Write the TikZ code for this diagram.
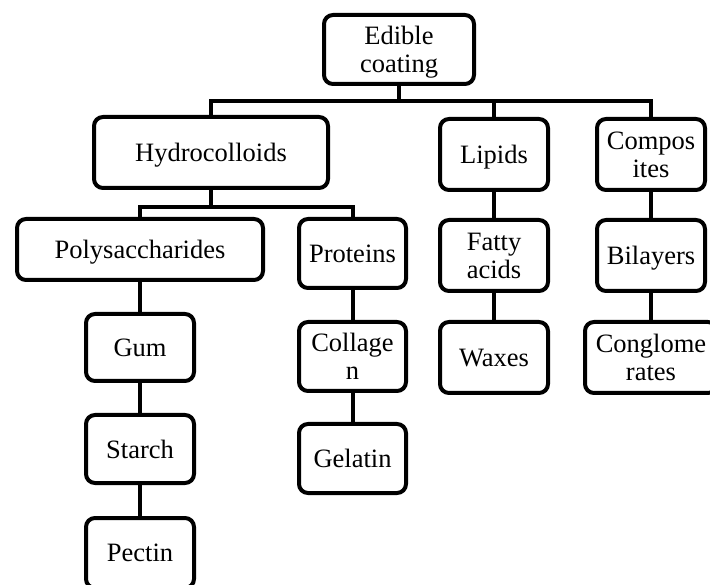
\documentclass[tikz,border=0pt]{standalone}
\usepackage{fontspec}
\setmainfont{Liberation Serif}
\begin{document}
\begin{tikzpicture}[x=1pt,y=-1pt,
  box/.style={draw=black,line width=4pt,rounded corners=9pt,inner sep=0pt,align=center,
    font=\fontsize{26.5}{28}\selectfont,fill=white,text depth=0pt},
  link/.style={draw=black,line width=4pt,line join=miter}]
\useasboundingbox (0,0) rectangle (710,585);
\clip (0,0) rectangle (710,585);
\fill[white] (0,0) rectangle (710,585);
\coordinate (bar1) at (0,101);
\coordinate (bar2) at (0,207);
\node[box,minimum width=150pt,minimum height=69pt] (edible) at (399,49.5) {Edible\\coating};
\node[box,minimum width=234pt,minimum height=71pt] (hydro) at (211,152.5) {Hydrocolloids};
\node[box,minimum width=108pt,minimum height=71pt] (lipids) at (494,154.5) {Lipids};
\node[box,minimum width=108pt,minimum height=71pt] (comp) at (651,154.5) {Compos\\ites};
\node[box,minimum width=246pt,minimum height=61pt] (poly) at (140,249.5) {Polysaccharides};
\node[box,minimum width=107pt,minimum height=69pt] (prot) at (352.5,253.5) {Proteins};
\node[box,minimum width=108pt,minimum height=71pt] (fatty) at (494,255.5) {Fatty\\acids};
\node[box,minimum width=108pt,minimum height=71pt] (bil) at (651,255.5) {Bilayers};
\node[box,minimum width=108pt,minimum height=67pt] (gum) at (140,347.5) {Gum};
\node[box,minimum width=107pt,minimum height=69pt] (coll) at (352.5,356.5) {Collage\\n};
\node[box,minimum width=108pt,minimum height=71pt] (wax) at (494,357.5) {Waxes};
\node[box,minimum width=132pt,minimum height=71pt] (cong) at (651,357.5) {Conglome\\rates};
\node[box,minimum width=108pt,minimum height=68pt] (starch) at (140,449) {Starch};
\node[box,minimum width=107pt,minimum height=69pt] (gel) at (352.5,458.5) {Gelatin};
\node[box,minimum width=108pt,minimum height=70pt] (pectin) at (140,553) {Pectin};
\path[link] (edible.south) -- (edible.south |- bar1);
\path[link] (hydro.north) |- (comp.north |- bar1) -- (comp.north);
\path[link] (lipids.north) -- (lipids.north |- bar1);
\path[link] (hydro.south) -- (hydro.south |- bar2);
\path[link] (poly.north) |- (prot.north |- bar2) -- (prot.north);
\path[link] (poly.south) -- (gum.north);
\path[link] (gum.south) -- (starch.north);
\path[link] (starch.south) -- (pectin.north);
\path[link] (prot.south) -- (coll.north);
\path[link] (coll.south) -- (gel.north);
\path[link] (lipids.south) -- (fatty.north);
\path[link] (fatty.south) -- (wax.north);
\path[link] (comp.south) -- (bil.north);
\path[link] (bil.south) -- (cong.north);
\end{tikzpicture}
\end{document}
